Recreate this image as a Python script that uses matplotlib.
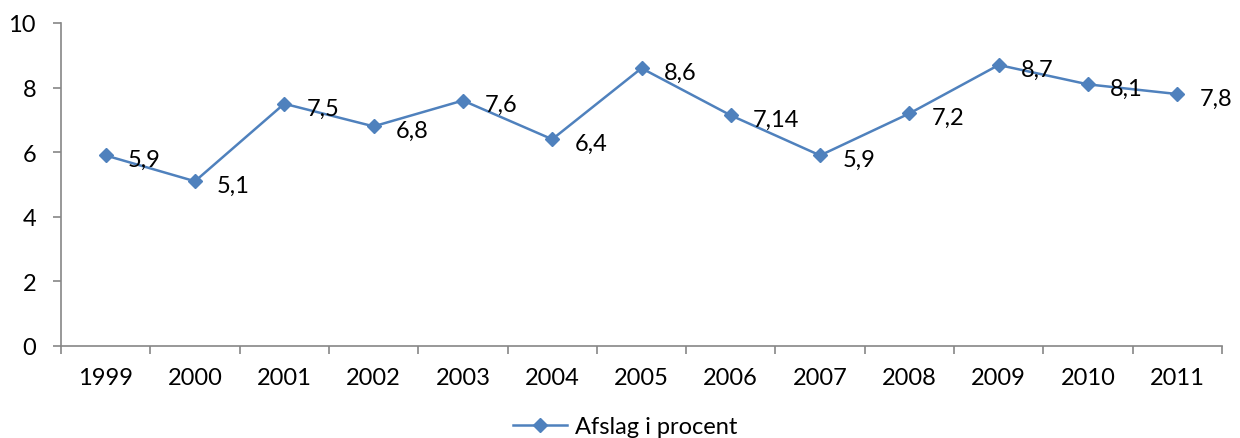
import matplotlib
matplotlib.use("Agg")
import matplotlib.pyplot as plt
from matplotlib.ticker import FixedLocator, NullFormatter

years = ["1999", "2000", "2001", "2002", "2003", "2004", "2005", "2006", "2007", "2008", "2009", "2010", "2011"]
values = [5.9, 5.1, 7.5, 6.8, 7.6, 6.4, 8.6, 7.14, 5.9, 7.2, 8.7, 8.1, 7.8]
labels = ["5,9", "5,1", "7,5", "6,8", "7,6", "6,4", "8,6", "7,14", "5,9", "7,2", "8,7", "8,1", "7,8"]
series_name = "Afslag i procent"

plt.rcParams['font.family'] = ['Lato', 'DejaVu Sans']
color = "#4F81BD"
gray = "#868686"
fs = 17

fig = plt.figure(figsize=(12.4, 4.39), dpi=100)
ax = fig.add_axes([61/1240, 1-347/439, (1222-61)/1240, (347-24)/439])
x = list(range(len(years)))
ax.plot(x, values, color=color, lw=1.8, marker='D', ms=7.5, mec=color, mfc=color, label=series_name)
for xi, v, t in zip(x, values, labels):
    ax.annotate(t, (xi, v), xytext=(16, -3), textcoords='offset points', va='center', ha='left',
                fontsize=fs, color='black')

ax.set_xlim(-0.5, len(years) - 0.5)
ax.set_ylim(0, 10)
ax.set_yticks([0, 2, 4, 6, 8, 10])
ax.set_xticks(x)
ax.set_xticklabels(years)
ax.xaxis.set_minor_locator(FixedLocator([i - 0.5 for i in range(len(years) + 1)]))
ax.xaxis.set_minor_formatter(NullFormatter())
ax.tick_params(axis='x', which='major', length=0, pad=15, labelsize=fs)
ax.tick_params(axis='x', which='minor', length=6, width=1.2, color=gray, direction='out')
ax.tick_params(axis='y', length=6, width=1.2, color=gray, direction='out', pad=12, labelsize=fs)
for s in ['top', 'right']:
    ax.spines[s].set_visible(False)
for s in ['left', 'bottom']:
    ax.spines[s].set_color(gray)
    ax.spines[s].set_linewidth(1.2)

fig.legend(loc='center', bbox_to_anchor=(625/1240, 1-428/439), frameon=False, fontsize=fs,
           handlelength=2.3, handletextpad=0.3)
fig.savefig("out.png", dpi=100)
